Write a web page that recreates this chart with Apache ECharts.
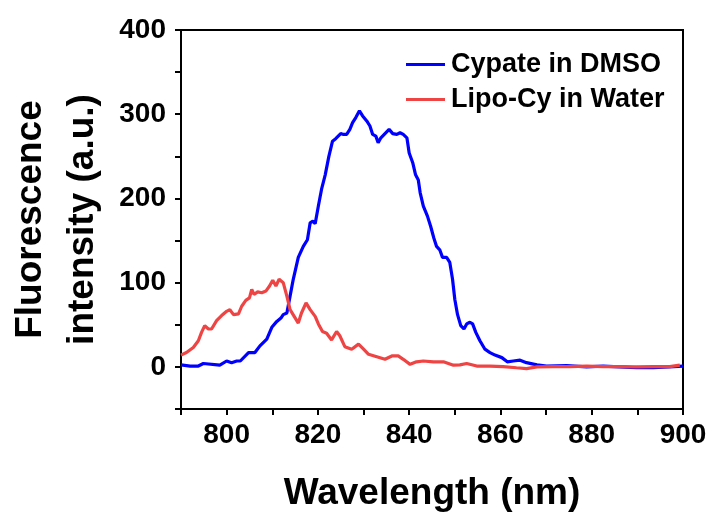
<!DOCTYPE html>
<html>
<head>
<meta charset="utf-8">
<script src="https://cdn.jsdelivr.net/npm/echarts@6/dist/echarts.min.js"></script>
<style>
  html, body { margin: 0; padding: 0; background: #fff; }
  #chart { width: 717px; height: 519px; }
</style>
</head>
<body>
<div id="chart"></div>
<script>
// Cypate in DMSO
var cypateWl = [790, 792, 793.8, 794.9, 798.5, 800, 801.1, 802.2, 803, 804.8, 806.2, 807.3, 808.8, 809.9, 811, 811.9, 812.4, 813.2, 813.9, 814.6, 815.7, 816.8, 817.7, 818.3, 818.9, 819.4, 820.1, 820.8, 821.6, 822.4, 823.2, 823.9, 824.3, 825, 825.6, 826.3, 827, 827.6, 828.3, 829.1, 829.8, 830.7, 831.4, 832, 832.7, 833.2, 833.8, 834.7, 835.6, 836.4, 837.3, 838, 838.7, 839.5, 840, 840.8, 841.4, 842, 842.4, 843.1, 844, 844.7, 845.4, 846, 846.7, 847.3, 848.2, 848.9, 849.5, 850, 850.6, 851.3, 852, 852.6, 853.3, 853.9, 854.6, 855.5, 856.6, 857.7, 858.8, 860.3, 861.5, 862.8, 864.3, 865.7, 868, 870.1, 874.5, 878.9, 882.5, 886, 889.8, 893.5, 897, 900];
var cypateInt = [2.4, 1, 1, 4, 2, 7, 5, 7, 7, 17, 17, 25, 33, 47, 54, 58, 62, 64, 84, 104, 130, 143, 151, 171, 173, 170, 191, 211, 228, 250, 268, 271, 272, 277, 276, 276, 282, 290, 296, 304, 298, 292, 286, 276, 274, 266, 272, 277, 282, 277, 276, 278, 276, 272, 254, 242, 228, 222, 207, 191, 179, 167, 153, 143, 139, 130, 130, 124, 104, 80, 62, 49, 45, 51, 53, 51, 41, 31, 21, 17, 14, 11, 6, 7, 8, 5, 2.4, 1, 1.5, 0, 1, 0, -1, -1, 0, 1];

// Lipo-Cy in Water
var lipoWl = [790, 791.2, 792.7, 793.8, 794.5, 795.2, 796, 796.7, 797.8, 798.9, 800, 800.7, 801.5, 802.6, 803.3, 804.2, 805, 805.5, 806, 806.8, 807.7, 808.6, 809.4, 810.1, 810.8, 811.5, 812.4, 813.2, 813.9, 814.8, 815.7, 816.4, 817.4, 818.3, 819.4, 820.1, 821, 821.9, 823, 824.1, 824.8, 825.9, 827.4, 828.9, 830, 831.1, 832.9, 834.7, 836.2, 837.6, 838.7, 840.2, 841.6, 843.1, 845.3, 847.5, 849.7, 851.1, 852.6, 854.8, 857.7, 860.6, 863.5, 865.7, 868, 871.6, 875.2, 878.9, 882.5, 886.2, 889.8, 893.5, 897.1, 899.3];
var lipoInt = [14, 17, 23, 31, 41, 49, 45, 45, 55, 61, 66, 68, 62, 63, 72, 79, 82, 92, 86, 89, 88, 90, 96, 103, 96, 104, 100, 84, 68, 60, 52, 64, 76, 68, 60, 51, 42, 40, 32, 42, 37, 24, 21, 27, 21, 15, 12, 9, 13, 13, 9, 3, 6, 7, 6, 6, 2, 2.4, 4, 1, 1, 0.4, -1, -2, 0, 0.4, 0.4, 1, 0.4, 0.4, 0, 0.4, 0.4, 2];

var seriesNames = ['Cypate in DMSO', 'Lipo-Cy in Water'];
var xTicks = [800, 820, 840, 860, 880, 900];
var yTicks = [0, 100, 200, 300, 400];

function zip(xs, ys) {
  return xs.map(function (x, i) { return [x, ys[i]]; });
}

var font = '"Liberation Sans", Arial, sans-serif';
var chart = echarts.init(document.getElementById('chart'));

chart.setOption({
  animation: false,
  color: ['#0000FF', '#EF4444'],
  grid: {
    left: 181, right: 34, top: 30, bottom: 110,
    outerBoundsMode: 'none',
    containLabel: false,
    show: true, borderColor: '#000', borderWidth: 2
  },
  legend: {
    data: seriesNames,
    orient: 'vertical',
    left: 401,
    top: 46,
    icon: 'rect',
    itemWidth: 39,
    itemHeight: 3,
    itemGap: 8,
    textStyle: { fontFamily: font, fontWeight: 'bold', fontSize: 27, color: '#000', padding: [0, 0, 0, 1] }
  },
  xAxis: {
    type: 'value',
    min: 790, max: 900, interval: 10,
    name: 'Wavelength (nm)',
    nameLocation: 'middle',
    nameGap: 66,
    nameTextStyle: { fontFamily: font, fontWeight: 'bold', fontSize: 37, color: '#000' },
    axisLine: { onZero: false, lineStyle: { color: '#000', width: 2 } },
    axisTick: { inside: false, length: 6, lineStyle: { color: '#000', width: 2 } },
    splitLine: { show: false },
    axisLabel: {
      margin: 12,
      fontFamily: font, fontWeight: 'bold', fontSize: 28, color: '#000',
      formatter: function (v) { return xTicks.indexOf(v) >= 0 ? String(v) : ''; }
    }
  },
  yAxis: {
    type: 'value',
    min: -50, max: 400, interval: 50,
    name: 'Fluorescence\nintensity (a.u.)',
    nameLocation: 'middle',
    nameRotate: 90,
    nameGap: 70,
    nameTextStyle: { fontFamily: font, fontWeight: 'bold', fontSize: 37, color: '#000', lineHeight: 52 },
    axisLine: { onZero: false, lineStyle: { color: '#000', width: 2 } },
    axisTick: { inside: false, length: 6, lineStyle: { color: '#000', width: 2 } },
    splitLine: { show: false },
    axisLabel: {
      margin: 15,
      fontFamily: font, fontWeight: 'bold', fontSize: 28, color: '#000',
      formatter: function (v) { return yTicks.indexOf(v) >= 0 ? String(v) : ''; }
    }
  },
  series: [
    {
      name: seriesNames[0],
      type: 'line',
      data: zip(cypateWl, cypateInt),
      showSymbol: false,
      symbol: 'none',
      lineStyle: { width: 3.2 }
    },
    {
      name: seriesNames[1],
      type: 'line',
      data: zip(lipoWl, lipoInt),
      showSymbol: false,
      symbol: 'none',
      lineStyle: { width: 3.2 }
    }
  ]
});
</script>
</body>
</html>
